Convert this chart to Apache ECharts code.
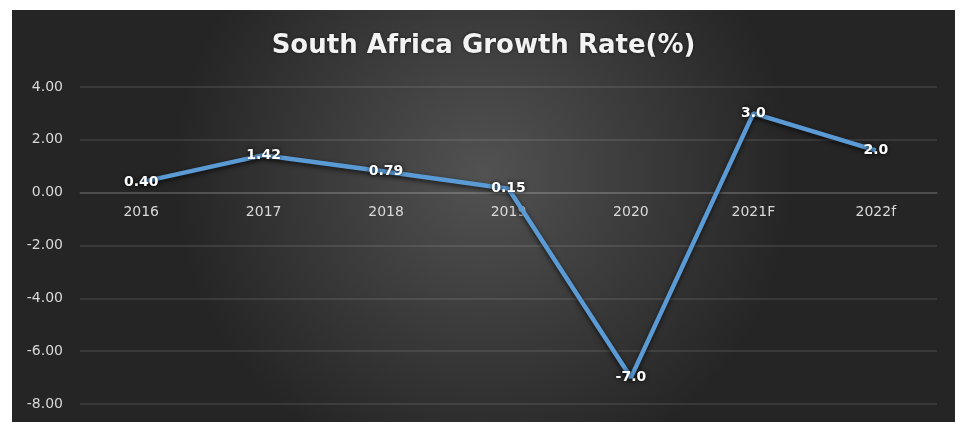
<!DOCTYPE html>
<html>
<head>
<meta charset="utf-8">
<script src="https://cdn.jsdelivr.net/npm/echarts@6/dist/echarts.min.js"></script>
<style>
html,body{margin:0;padding:0;background:#ffffff;}
#chart{position:absolute;left:12px;top:10px;width:943px;height:412px;}
</style>
</head>
<body>
<div id="chart"></div>
<script>
var titleText = 'South Africa Growth Rate(%)';
var categories = ['2016', '2017', '2018', '2019', '2020', '2021F', '2022f'];
var growthValues = [0.40, 1.42, 0.79, 0.15, -7.0, 3.0, 1.6];
var valueLabels = ['0.40', '1.42', '0.79', '0.15', '-7.0', '3.0', '2.0'];
var yMin = -8, yMax = 4, yInterval = 2;

var gridTop = 77, gridBottom = 18, chartH = 412;
var gridH = chartH - gridTop - gridBottom;
var zeroOffset = -gridH * (0 - yMin) / (yMax - yMin);

var chart = echarts.init(document.getElementById('chart'));
chart.setOption({
  backgroundColor: {
    type: 'radial', x: 0.5, y: 0.4, r: 0.75,
    colorStops: [{offset: 0, color: '#525252'}, {offset: 1, color: '#252525'}]
  },
  animation: false,
  title: {
    text: titleText, left: 'center', top: 18,
    textStyle: {color: '#f2f2f2', fontFamily: 'DejaVu Sans', fontWeight: 'bold', fontSize: 26,
      textShadowColor: 'rgba(0,0,0,0.6)', textShadowBlur: 3}
  },
  grid: {left: 68, right: 18, top: gridTop, bottom: gridBottom, containLabel: false},
  xAxis: {
    type: 'category', data: categories, boundaryGap: true, position: 'bottom',
    offset: zeroOffset,
    axisLine: {show: true, onZero: false, lineStyle: {color: 'rgba(255,255,255,0.15)', width: 1.5}},
    axisTick: {show: false},
    axisLabel: {color: '#d9d9d9', fontFamily: 'DejaVu Sans', fontSize: 14, margin: 13}
  },
  yAxis: {
    type: 'value', min: yMin, max: yMax, interval: yInterval,
    axisLine: {show: false}, axisTick: {show: false},
    axisLabel: {color: '#d9d9d9', fontFamily: 'DejaVu Sans', fontSize: 14, margin: 17,
      formatter: function (v) { return v.toFixed(2); }},
    splitLine: {lineStyle: {color: 'rgba(255,255,255,0.13)', width: 1.5}}
  },
  series: [{
    type: 'line', data: growthValues, symbol: 'circle', symbolSize: 2, showSymbol: true,
    itemStyle: {color: 'rgba(0,0,0,0)', borderWidth: 0},
    lineStyle: {color: '#5b9bd5', width: 4.5, shadowColor: 'rgba(0,0,0,0.7)', shadowBlur: 5, shadowOffsetY: 2},
    label: {
      show: true, position: 'inside',
      formatter: function (p) { return valueLabels[p.dataIndex]; },
      color: '#ffffff', fontFamily: 'DejaVu Sans', fontWeight: 'bold', fontSize: 14,
      textShadowColor: 'rgba(0,0,0,0.9)', textShadowBlur: 4
    }
  }]
});
</script>
</body>
</html>
